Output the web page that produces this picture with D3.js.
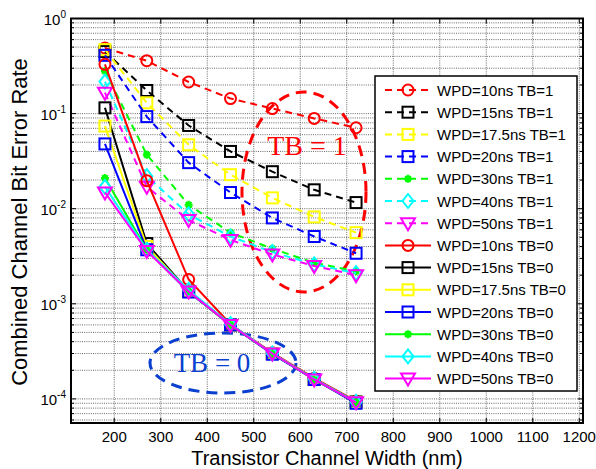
<!DOCTYPE html>
<html><head><meta charset="utf-8">
<script src="https://cdn.jsdelivr.net/npm/d3@7"></script>
<style>body{margin:0;background:#fff}svg{display:block}text{font-family:Arial,"Liberation Sans",sans-serif}</style>
</head><body><svg id="c" width="596" height="469"></svg>
<script>
const widths = [180, 270, 360, 450, 540, 630, 720];
const xTicks = [200, 300, 400, 500, 600, 700, 800, 900, 1000, 1100, 1200];
const yTickExps = [0, -1, -2, -3, -4];

const seriesNames = ["WPD=10ns TB=1","WPD=15ns TB=1","WPD=17.5ns TB=1","WPD=20ns TB=1","WPD=30ns TB=1","WPD=40ns TB=1","WPD=50ns TB=1",
  "WPD=10ns TB=0","WPD=15ns TB=0","WPD=17.5ns TB=0","WPD=20ns TB=0","WPD=30ns TB=0","WPD=40ns TB=0","WPD=50ns TB=0"];
const seriesColors = ["#ff0000","#000000","#ffff00","#0000ff","#00ff00","#00ffff","#ff00ff",
  "#ff0000","#000000","#ffff00","#0000ff","#00ff00","#00ffff","#ff00ff"];
const seriesMarkers = ["circle","square","square","square","star","diamond","triangle",
  "circle","square","square","square","star","diamond","triangle"];
const seriesDashed = [true,true,true,true,true,true,true,false,false,false,false,false,false,false];

const wpd10tb1  = [0.49, 0.36, 0.215, 0.144, 0.113, 0.089, 0.071];
const wpd15tb1  = [0.45, 0.175, 0.075, 0.040, 0.0245, 0.0158, 0.0116];
const wpd175tb1 = [0.47, 0.13, 0.047, 0.0228, 0.013, 0.0082, 0.0056];
const wpd20tb1  = [0.41, 0.093, 0.0305, 0.0148, 0.0080, 0.0051, 0.0034];
const wpd30tb1  = [0.28, 0.037, 0.011, 0.0056, 0.0038, 0.0027, 0.0022];
const wpd40tb1  = [0.217, 0.022, 0.0087, 0.0051, 0.0035, 0.0026, 0.0021];
const wpd50tb1  = [0.166, 0.017, 0.0076, 0.0047, 0.0033, 0.0025, 0.0020];
const wpd10tb0  = [0.33, 0.0197, 0.0018, 0.00061, 0.000305, 0.000165, 0.000095];
const wpd15tb0  = [0.115, 0.0043, 0.00135, 0.0006, 0.0003, 0.00016, 0.000093];
const wpd175tb0 = [0.074, 0.0040, 0.00135, 0.0006, 0.0003, 0.00016, 0.000092];
const wpd20tb0  = [0.048, 0.0037, 0.00133, 0.0006, 0.000295, 0.00016, 0.00009];
const wpd30tb0  = [0.021, 0.0037, 0.00135, 0.0006, 0.0003, 0.00016, 0.000092];
const wpd40tb0  = [0.017, 0.0037, 0.0014, 0.00061, 0.0003, 0.000162, 0.000093];
const wpd50tb0  = [0.0148, 0.0036, 0.00135, 0.0006, 0.0003, 0.00016, 0.000092];
const seriesValues = [wpd10tb1,wpd15tb1,wpd175tb1,wpd20tb1,wpd30tb1,wpd40tb1,wpd50tb1,
  wpd10tb0,wpd15tb0,wpd175tb0,wpd20tb0,wpd30tb0,wpd40tb0,wpd50tb0];

const svg = d3.select("#c");
const L = 71, R = 583, T = 18.5, B = 423;
const x = d3.scaleLinear().domain([107, 1208]).range([L, R]);
const y = d3.scaleLog().domain([5.58e-5, 1]).range([B, T]);

// grid
const g = svg.append("g");
const minor = [];
for (let e = -5; e < 0; e++) for (let k = 1; k < 10; k++) { const v = k * Math.pow(10, e); if (v >= 5.58e-5 && v <= 1) minor.push(v); }
g.selectAll(".hy").data(minor).join("line")
  .attr("x1", L).attr("x2", R).attr("y1", d => y(d)).attr("y2", d => y(d))
  .attr("stroke", "#444").attr("stroke-width", 0.8).attr("stroke-dasharray", "1,1.2");
g.selectAll(".vx").data(xTicks).join("line")
  .attr("x1", d => x(d)).attr("x2", d => x(d)).attr("y1", T).attr("y2", B)
  .attr("stroke", "#444").attr("stroke-width", 0.8).attr("stroke-dasharray", "1,1.2");

// ticks
const tk = svg.append("g").attr("stroke", "#000").attr("stroke-width", 1);
xTicks.forEach(v => {
  tk.append("line").attr("x1", x(v)).attr("x2", x(v)).attr("y1", B).attr("y2", B - 5);
  tk.append("line").attr("x1", x(v)).attr("x2", x(v)).attr("y1", T).attr("y2", T + 5);
});
minor.forEach(v => {
  const len = Math.abs(Math.log10(v) - Math.round(Math.log10(v))) < 1e-9 ? 5 : 3;
  tk.append("line").attr("x1", L).attr("x2", L + len).attr("y1", y(v)).attr("y2", y(v));
  tk.append("line").attr("x1", R).attr("x2", R - len).attr("y1", y(v)).attr("y2", y(v));
});

// annotation ellipses (behind data)
svg.append("ellipse").attr("cx", 304).attr("cy", 192).attr("rx", 62).attr("ry", 100)
  .attr("fill", "none").attr("stroke", "#ff0000").attr("stroke-width", 3).attr("stroke-dasharray", "11,7");
svg.append("ellipse").attr("cx", 223).attr("cy", 363).attr("rx", 73).attr("ry", 30)
  .attr("fill", "none").attr("stroke", "#0a3fd0").attr("stroke-width", 3).attr("stroke-dasharray", "11,7");
svg.append("text").attr("x", 307).attr("y", 155).attr("text-anchor", "middle")
  .style("font-family", "'Liberation Serif','Times New Roman',serif").attr("font-size", 28).attr("fill", "#ff0000").text("TB = 1");
svg.append("text").attr("x", 212).attr("y", 372).attr("text-anchor", "middle")
  .style("font-family", "'Liberation Serif','Times New Roman',serif").attr("font-size", 27).attr("fill", "#0a3fd0").text("TB = 0");

function drawMarker(sel, type, cx, cy, color) {
  if (type === "circle") sel.append("circle").attr("cx", cx).attr("cy", cy).attr("r", 5.5).attr("fill", "none").attr("stroke", color).attr("stroke-width", 2);
  else if (type === "square") sel.append("rect").attr("x", cx - 5.5).attr("y", cy - 5.5).attr("width", 11).attr("height", 11).attr("fill", "none").attr("stroke", color).attr("stroke-width", 2);
  else if (type === "diamond") sel.append("path").attr("d", `M${cx},${cy-7}L${cx+5.5},${cy}L${cx},${cy+7}L${cx-5.5},${cy}Z`).attr("fill", "none").attr("stroke", color).attr("stroke-width", 2);
  else if (type === "triangle") sel.append("path").attr("d", `M${cx-7},${cy-5}L${cx+7},${cy-5}L${cx},${cy+7}Z`).attr("fill", "none").attr("stroke", color).attr("stroke-width", 2);
  else if (type === "star") {
    const s = 4;
    sel.append("path").attr("d", `M${cx-s},${cy}L${cx+s},${cy}M${cx},${cy-s}L${cx},${cy+s}M${cx-s*0.7},${cy-s*0.7}L${cx+s*0.7},${cy+s*0.7}M${cx-s*0.7},${cy+s*0.7}L${cx+s*0.7},${cy-s*0.7}`)
      .attr("stroke", color).attr("stroke-width", 2.2).attr("fill", "none");
  }
}

const line = d3.line().x((d, i) => x(widths[i])).y(d => y(d));
const dataG = svg.append("g");
seriesValues.forEach((vals, s) => {
  const sg = dataG.append("g");
  sg.append("path").attr("d", line(vals)).attr("fill", "none").attr("stroke", seriesColors[s])
    .attr("stroke-width", 2).attr("stroke-dasharray", seriesDashed[s] ? "7,5" : null);
  vals.forEach((v, i) => drawMarker(sg, seriesMarkers[s], x(widths[i]), y(v), seriesColors[s]));
});

// axes box
svg.append("rect").attr("x", L).attr("y", T).attr("width", R - L).attr("height", B - T)
  .attr("fill", "none").attr("stroke", "#000").attr("stroke-width", 2);

// tick labels
svg.selectAll(".xl").data(xTicks).join("text").attr("x", d => x(d)).attr("y", 442)
  .attr("text-anchor", "middle").attr("font-size", 15).attr("fill", "#000").text(d => d);
yTickExps.forEach(e => {
  const t = svg.append("text").attr("x", 66).attr("y", y(Math.pow(10, e)) + 6).attr("text-anchor", "end").attr("font-size", 15).attr("fill", "#000");
  t.append("tspan").text("10");
  t.append("tspan").attr("dy", -7).attr("font-size", 10).text(e);
});

// axis titles
svg.append("text").attr("x", 327).attr("y", 464.5).attr("text-anchor", "middle").attr("font-size", 20).attr("fill", "#000").text("Transistor Channel Width (nm)");
svg.append("text").attr("transform", "translate(27,222) rotate(-90)").attr("text-anchor", "middle").attr("font-size", 22).attr("fill", "#000").text("Combined Channel Bit Error Rate");

// legend
const lg = svg.append("g");
lg.append("rect").attr("x", 375).attr("y", 76).attr("width", 202).attr("height", 315).attr("fill", "#fff").attr("stroke", "#000").attr("stroke-width", 1.5);
seriesNames.forEach((name, i) => {
  const cy = 90 + i * 22.2;
  lg.append("line").attr("x1", 385).attr("x2", 431).attr("y1", cy).attr("y2", cy).attr("stroke", seriesColors[i])
    .attr("stroke-width", 2).attr("stroke-dasharray", seriesDashed[i] ? "7,5" : null);
  drawMarker(lg, seriesMarkers[i], 408, cy, seriesColors[i]);
  lg.append("text").attr("x", 437).attr("y", cy + 5.5).attr("font-size", 15).attr("fill", "#000").text(name);
});
</script></body></html>
